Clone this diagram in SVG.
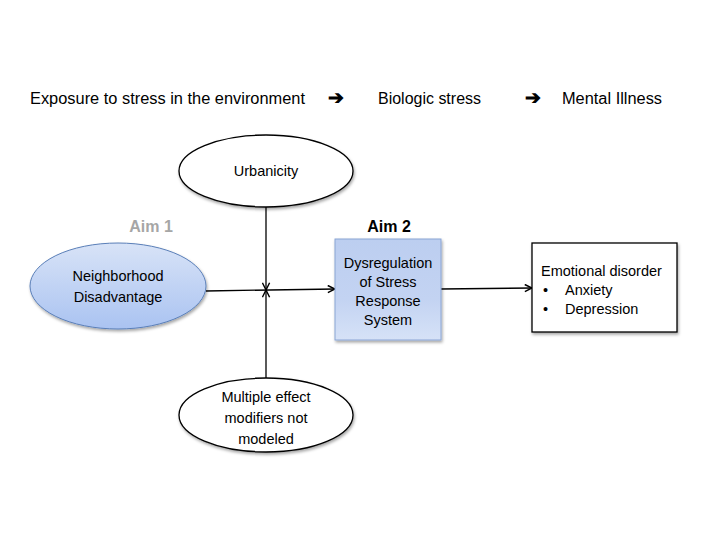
<svg xmlns="http://www.w3.org/2000/svg" width="720" height="540" viewBox="0 0 720 540">
<defs>
<linearGradient id="gEl" x1="0" y1="0" x2="0" y2="1">
<stop offset="0" stop-color="#d8e3f7"/>
<stop offset="1" stop-color="#aac3f1"/>
</linearGradient>
<linearGradient id="gBox" x1="0" y1="0" x2="0" y2="1">
<stop offset="0" stop-color="#bccef0"/>
<stop offset="0.6" stop-color="#c3d3f2"/>
<stop offset="1" stop-color="#d6e2f7"/>
</linearGradient>
<filter id="sh" x="-20%" y="-20%" width="140%" height="150%">
<feDropShadow dx="1" dy="2" stdDeviation="1.8" flood-color="#000" flood-opacity="0.35"/>
</filter>
<marker id="arr" viewBox="0 0 10 10" refX="9" refY="5" markerWidth="9" markerHeight="9" markerUnits="userSpaceOnUse" orient="auto">
<path d="M1,1 L9,5 L1,9" fill="none" stroke="#000" stroke-width="1.6"/>
</marker>
</defs>
<style>
text{font-family:"Liberation Sans",Arial,sans-serif;fill:#000}
.t{font-size:16px}
.ar{font-size:19px;font-weight:bold}
.n{font-size:14.5px;text-anchor:middle}
.e{font-size:14.5px}
.c{stroke:#000;stroke-width:1.3;fill:none}
.w{fill:#fff;stroke:#000;stroke-width:1.3}
</style>
<rect width="720" height="540" fill="#fff"/>
<g id="header">
<text class="t" x="30" y="104" textLength="275" lengthAdjust="spacingAndGlyphs">Exposure to stress in the environment</text>
<text class="ar" x="328" y="104">➔</text>
<text class="t" x="378" y="104" textLength="103" lengthAdjust="spacingAndGlyphs">Biologic stress</text>
<text class="ar" x="525" y="104">➔</text>
<text class="t" x="562" y="104" textLength="100" lengthAdjust="spacingAndGlyphs">Mental Illness</text>
</g>
<g id="connectors">
<line class="c" x1="266" y1="207" x2="266" y2="290" marker-end="url(#arr)"/>
<line class="c" x1="266" y1="378" x2="266" y2="290" marker-end="url(#arr)"/>
<line class="c" x1="206" y1="291" x2="335" y2="289" marker-end="url(#arr)"/>
<line class="c" x1="441" y1="289" x2="532" y2="288" marker-end="url(#arr)"/>
</g>
<g id="urbanicity">
<ellipse class="w" cx="266" cy="171" rx="87" ry="36" filter="url(#sh)"/>
<text class="n" x="266" y="176">Urbanicity</text>
</g>
<g id="modifiers">
<ellipse class="w" cx="266" cy="415" rx="87" ry="37" filter="url(#sh)"/>
<text class="n" x="266" y="402">Multiple effect</text>
<text class="n" x="266" y="423">modifiers not</text>
<text class="n" x="266" y="444">modeled</text>
</g>
<g id="aim1">
<text x="151" y="232" font-size="16" font-weight="bold" text-anchor="middle" style="fill:#a6a6a6">Aim 1</text>
</g>
<g id="neighborhood">
<ellipse cx="118" cy="286" rx="88" ry="43" fill="url(#gEl)" stroke="#5a7fb8" stroke-width="1" filter="url(#sh)"/>
<text class="n" x="118" y="281">Neighborhood</text>
<text class="n" x="118" y="302">Disadvantage</text>
</g>
<g id="aim2">
<text x="389" y="232" font-size="16" font-weight="bold" text-anchor="middle">Aim 2</text>
</g>
<g id="dysregulation">
<rect x="335" y="239" width="106" height="101" fill="url(#gBox)" stroke="#8aa5d4" stroke-width="1" filter="url(#sh)"/>
<text class="n" x="388" y="268">Dysregulation</text>
<text class="n" x="388" y="287">of Stress</text>
<text class="n" x="388" y="306">Response</text>
<text class="n" x="388" y="325">System</text>
</g>
<g id="emotional">
<rect class="w" x="532" y="243" width="145" height="89" filter="url(#sh)"/>
<text class="e" x="541" y="276">Emotional disorder</text>
<text class="e" x="543" y="295">•</text>
<text class="e" x="565" y="295">Anxiety</text>
<text class="e" x="543" y="314">•</text>
<text class="e" x="565" y="314">Depression</text>
</g>
</svg>
